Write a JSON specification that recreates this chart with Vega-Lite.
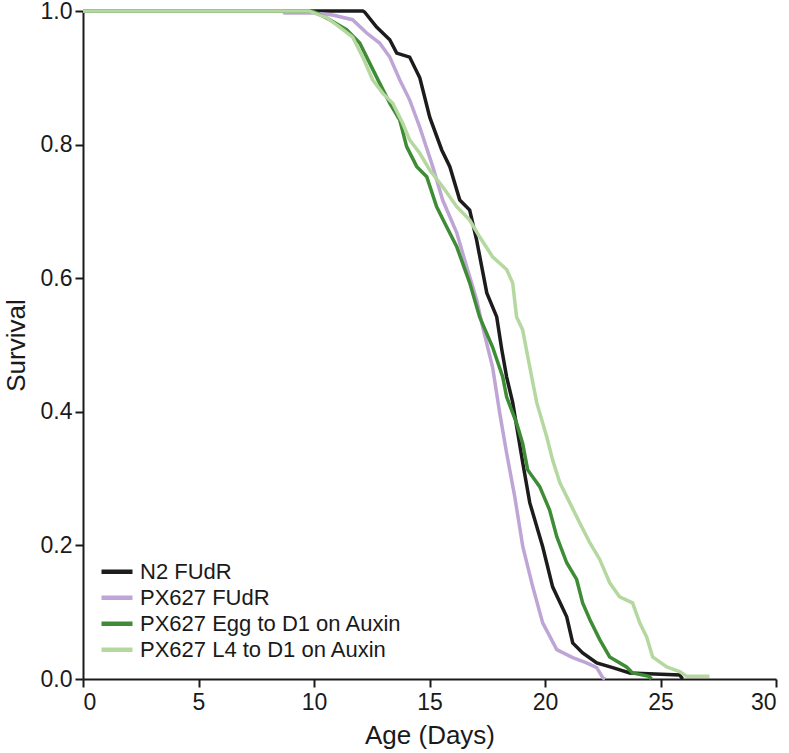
{
  "$schema": "https://vega.github.io/schema/vega-lite/v6.json",
  "width": 693,
  "height": 668,
  "autosize": {"type": "none"},
  "padding": {"left": 83, "top": 11, "right": 13, "bottom": 74},
  "background": "white",
  "config": {
    "font": "Liberation Sans",
    "view": {"stroke": null},
    "axis": {
      "grid": false,
      "domainColor": "#1a1a1a",
      "domainWidth": 2,
      "tickColor": "#1a1a1a",
      "tickWidth": 2,
      "tickSize": 8,
      "labelColor": "#1a1a1a",
      "labelFontSize": 23,
      "labelFont": "Liberation Sans",
      "titleFont": "Liberation Sans",
      "titleFontSize": 26,
      "titleFontWeight": "normal",
      "titleColor": "#1a1a1a"
    }
  },
  "data": {
    "values": [
      {"g": "N2 FUdR", "d": 0, "s": 1.0},
      {"g": "N2 FUdR", "d": 12.11, "s": 1.0},
      {"g": "N2 FUdR", "d": 12.19, "s": 0.9985},
      {"g": "N2 FUdR", "d": 12.71, "s": 0.976},
      {"g": "N2 FUdR", "d": 13.28, "s": 0.957},
      {"g": "N2 FUdR", "d": 13.58, "s": 0.937},
      {"g": "N2 FUdR", "d": 14.14, "s": 0.931},
      {"g": "N2 FUdR", "d": 14.58, "s": 0.9},
      {"g": "N2 FUdR", "d": 15.01, "s": 0.841},
      {"g": "N2 FUdR", "d": 15.53, "s": 0.792},
      {"g": "N2 FUdR", "d": 15.88, "s": 0.767},
      {"g": "N2 FUdR", "d": 16.31, "s": 0.717},
      {"g": "N2 FUdR", "d": 16.74, "s": 0.702},
      {"g": "N2 FUdR", "d": 17.04, "s": 0.657},
      {"g": "N2 FUdR", "d": 17.48, "s": 0.578},
      {"g": "N2 FUdR", "d": 17.91, "s": 0.542},
      {"g": "N2 FUdR", "d": 18.13, "s": 0.493},
      {"g": "N2 FUdR", "d": 18.34, "s": 0.452},
      {"g": "N2 FUdR", "d": 18.6, "s": 0.414},
      {"g": "N2 FUdR", "d": 19.04, "s": 0.323},
      {"g": "N2 FUdR", "d": 19.34, "s": 0.264},
      {"g": "N2 FUdR", "d": 19.9, "s": 0.198},
      {"g": "N2 FUdR", "d": 20.33, "s": 0.138},
      {"g": "N2 FUdR", "d": 20.94, "s": 0.093},
      {"g": "N2 FUdR", "d": 21.2, "s": 0.054},
      {"g": "N2 FUdR", "d": 21.63, "s": 0.039},
      {"g": "N2 FUdR", "d": 22.24, "s": 0.024},
      {"g": "N2 FUdR", "d": 22.93, "s": 0.017},
      {"g": "N2 FUdR", "d": 23.67, "s": 0.009},
      {"g": "N2 FUdR", "d": 25.83, "s": 0.006},
      {"g": "N2 FUdR", "d": 25.96, "s": 0.0},

      {"g": "PX627 FUdR", "d": 0, "s": 1.0},
      {"g": "PX627 FUdR", "d": 8.65, "s": 1.0},
      {"g": "PX627 FUdR", "d": 8.73, "s": 0.997},
      {"g": "PX627 FUdR", "d": 9.94, "s": 0.997},
      {"g": "PX627 FUdR", "d": 10.81, "s": 0.994},
      {"g": "PX627 FUdR", "d": 11.67, "s": 0.987},
      {"g": "PX627 FUdR", "d": 12.28, "s": 0.967},
      {"g": "PX627 FUdR", "d": 12.84, "s": 0.952},
      {"g": "PX627 FUdR", "d": 13.28, "s": 0.931},
      {"g": "PX627 FUdR", "d": 13.71, "s": 0.897},
      {"g": "PX627 FUdR", "d": 14.14, "s": 0.867},
      {"g": "PX627 FUdR", "d": 14.58, "s": 0.826},
      {"g": "PX627 FUdR", "d": 15.14, "s": 0.767},
      {"g": "PX627 FUdR", "d": 15.57, "s": 0.717},
      {"g": "PX627 FUdR", "d": 16.18, "s": 0.668},
      {"g": "PX627 FUdR", "d": 16.61, "s": 0.617},
      {"g": "PX627 FUdR", "d": 17.04, "s": 0.568},
      {"g": "PX627 FUdR", "d": 17.3, "s": 0.527},
      {"g": "PX627 FUdR", "d": 17.73, "s": 0.467},
      {"g": "PX627 FUdR", "d": 18.04, "s": 0.398},
      {"g": "PX627 FUdR", "d": 18.34, "s": 0.338},
      {"g": "PX627 FUdR", "d": 18.69, "s": 0.273},
      {"g": "PX627 FUdR", "d": 19.04, "s": 0.198},
      {"g": "PX627 FUdR", "d": 19.47, "s": 0.138},
      {"g": "PX627 FUdR", "d": 19.9, "s": 0.084},
      {"g": "PX627 FUdR", "d": 20.51, "s": 0.044},
      {"g": "PX627 FUdR", "d": 21.2, "s": 0.032},
      {"g": "PX627 FUdR", "d": 21.8, "s": 0.024},
      {"g": "PX627 FUdR", "d": 22.24, "s": 0.017},
      {"g": "PX627 FUdR", "d": 22.5, "s": 0.002},
      {"g": "PX627 FUdR", "d": 22.6, "s": 0.0},

      {"g": "PX627 Egg to D1 on Auxin", "d": 0, "s": 1.0},
      {"g": "PX627 Egg to D1 on Auxin", "d": 9.94, "s": 1.0},
      {"g": "PX627 Egg to D1 on Auxin", "d": 10.68, "s": 0.987},
      {"g": "PX627 Egg to D1 on Auxin", "d": 11.41, "s": 0.972},
      {"g": "PX627 Egg to D1 on Auxin", "d": 11.98, "s": 0.952},
      {"g": "PX627 Egg to D1 on Auxin", "d": 12.41, "s": 0.922},
      {"g": "PX627 Egg to D1 on Auxin", "d": 12.84, "s": 0.892},
      {"g": "PX627 Egg to D1 on Auxin", "d": 13.28, "s": 0.862},
      {"g": "PX627 Egg to D1 on Auxin", "d": 13.71, "s": 0.837},
      {"g": "PX627 Egg to D1 on Auxin", "d": 14.01, "s": 0.797},
      {"g": "PX627 Egg to D1 on Auxin", "d": 14.45, "s": 0.767},
      {"g": "PX627 Egg to D1 on Auxin", "d": 14.88, "s": 0.752},
      {"g": "PX627 Egg to D1 on Auxin", "d": 15.31, "s": 0.707},
      {"g": "PX627 Egg to D1 on Auxin", "d": 15.74, "s": 0.677},
      {"g": "PX627 Egg to D1 on Auxin", "d": 16.18, "s": 0.647},
      {"g": "PX627 Egg to D1 on Auxin", "d": 16.74, "s": 0.593},
      {"g": "PX627 Egg to D1 on Auxin", "d": 17.17, "s": 0.542},
      {"g": "PX627 Egg to D1 on Auxin", "d": 17.73, "s": 0.497},
      {"g": "PX627 Egg to D1 on Auxin", "d": 18.17, "s": 0.452},
      {"g": "PX627 Egg to D1 on Auxin", "d": 18.34, "s": 0.422},
      {"g": "PX627 Egg to D1 on Auxin", "d": 18.77, "s": 0.383},
      {"g": "PX627 Egg to D1 on Auxin", "d": 19.03, "s": 0.353},
      {"g": "PX627 Egg to D1 on Auxin", "d": 19.25, "s": 0.313},
      {"g": "PX627 Egg to D1 on Auxin", "d": 19.77, "s": 0.288},
      {"g": "PX627 Egg to D1 on Auxin", "d": 20.2, "s": 0.253},
      {"g": "PX627 Egg to D1 on Auxin", "d": 20.51, "s": 0.213},
      {"g": "PX627 Egg to D1 on Auxin", "d": 20.94, "s": 0.174},
      {"g": "PX627 Egg to D1 on Auxin", "d": 21.37, "s": 0.149},
      {"g": "PX627 Egg to D1 on Auxin", "d": 21.63, "s": 0.114},
      {"g": "PX627 Egg to D1 on Auxin", "d": 21.94, "s": 0.089},
      {"g": "PX627 Egg to D1 on Auxin", "d": 22.37, "s": 0.059},
      {"g": "PX627 Egg to D1 on Auxin", "d": 22.8, "s": 0.033},
      {"g": "PX627 Egg to D1 on Auxin", "d": 23.53, "s": 0.018},
      {"g": "PX627 Egg to D1 on Auxin", "d": 23.79, "s": 0.009},
      {"g": "PX627 Egg to D1 on Auxin", "d": 24.5, "s": 0.004},
      {"g": "PX627 Egg to D1 on Auxin", "d": 24.61, "s": 0.0},

      {"g": "PX627 L4 to D1 on Auxin", "d": 0, "s": 1.0},
      {"g": "PX627 L4 to D1 on Auxin", "d": 9.8, "s": 1.0},
      {"g": "PX627 L4 to D1 on Auxin", "d": 9.94, "s": 0.998},
      {"g": "PX627 L4 to D1 on Auxin", "d": 10.55, "s": 0.99},
      {"g": "PX627 L4 to D1 on Auxin", "d": 11.11, "s": 0.976},
      {"g": "PX627 L4 to D1 on Auxin", "d": 11.67, "s": 0.961},
      {"g": "PX627 L4 to D1 on Auxin", "d": 12.11, "s": 0.931},
      {"g": "PX627 L4 to D1 on Auxin", "d": 12.54, "s": 0.897},
      {"g": "PX627 L4 to D1 on Auxin", "d": 12.97, "s": 0.877},
      {"g": "PX627 L4 to D1 on Auxin", "d": 13.41, "s": 0.862},
      {"g": "PX627 L4 to D1 on Auxin", "d": 13.84, "s": 0.832},
      {"g": "PX627 L4 to D1 on Auxin", "d": 14.14, "s": 0.807},
      {"g": "PX627 L4 to D1 on Auxin", "d": 14.58, "s": 0.787},
      {"g": "PX627 L4 to D1 on Auxin", "d": 15.01, "s": 0.762},
      {"g": "PX627 L4 to D1 on Auxin", "d": 15.57, "s": 0.737},
      {"g": "PX627 L4 to D1 on Auxin", "d": 16.18, "s": 0.707},
      {"g": "PX627 L4 to D1 on Auxin", "d": 16.74, "s": 0.687},
      {"g": "PX627 L4 to D1 on Auxin", "d": 17.17, "s": 0.662},
      {"g": "PX627 L4 to D1 on Auxin", "d": 17.73, "s": 0.632},
      {"g": "PX627 L4 to D1 on Auxin", "d": 18.34, "s": 0.613},
      {"g": "PX627 L4 to D1 on Auxin", "d": 18.6, "s": 0.593},
      {"g": "PX627 L4 to D1 on Auxin", "d": 18.77, "s": 0.542},
      {"g": "PX627 L4 to D1 on Auxin", "d": 19.03, "s": 0.523},
      {"g": "PX627 L4 to D1 on Auxin", "d": 19.34, "s": 0.467},
      {"g": "PX627 L4 to D1 on Auxin", "d": 19.64, "s": 0.414},
      {"g": "PX627 L4 to D1 on Auxin", "d": 20.07, "s": 0.363},
      {"g": "PX627 L4 to D1 on Auxin", "d": 20.33, "s": 0.328},
      {"g": "PX627 L4 to D1 on Auxin", "d": 20.64, "s": 0.294},
      {"g": "PX627 L4 to D1 on Auxin", "d": 21.07, "s": 0.264},
      {"g": "PX627 L4 to D1 on Auxin", "d": 21.5, "s": 0.234},
      {"g": "PX627 L4 to D1 on Auxin", "d": 21.94, "s": 0.204},
      {"g": "PX627 L4 to D1 on Auxin", "d": 22.37, "s": 0.179},
      {"g": "PX627 L4 to D1 on Auxin", "d": 22.8, "s": 0.144},
      {"g": "PX627 L4 to D1 on Auxin", "d": 23.23, "s": 0.123},
      {"g": "PX627 L4 to D1 on Auxin", "d": 23.79, "s": 0.114},
      {"g": "PX627 L4 to D1 on Auxin", "d": 24.1, "s": 0.084},
      {"g": "PX627 L4 to D1 on Auxin", "d": 24.4, "s": 0.063},
      {"g": "PX627 L4 to D1 on Auxin", "d": 24.66, "s": 0.033},
      {"g": "PX627 L4 to D1 on Auxin", "d": 25.27, "s": 0.018},
      {"g": "PX627 L4 to D1 on Auxin", "d": 25.83, "s": 0.011},
      {"g": "PX627 L4 to D1 on Auxin", "d": 26.13, "s": 0.004},
      {"g": "PX627 L4 to D1 on Auxin", "d": 27.12, "s": 0.004}
    ]
  },
  "mark": {"type": "line", "strokeWidth": 3.5, "interpolate": "linear", "clip": false},
  "encoding": {
    "x": {
      "field": "d",
      "type": "quantitative",
      "title": "Age (Days)",
      "scale": {"domain": [0, 30], "nice": false, "zero": true},
      "axis": {"values": [0, 5, 10, 15, 20, 25, 30], "labelFontSize": 23, "labelPadding": 4, "titlePadding": 8}
    },
    "y": {
      "field": "s",
      "type": "quantitative",
      "title": "Survival",
      "scale": {"domain": [0, 1], "nice": false},
      "axis": {"values": [0, 0.2, 0.4, 0.6, 0.8, 1.0], "format": ".1f", "labelFontSize": 23, "labelPadding": 3, "titlePadding": 11}
    },
    "color": {
      "field": "g",
      "type": "nominal",
      "scale": {
        "domain": ["N2 FUdR", "PX627 FUdR", "PX627 Egg to D1 on Auxin", "PX627 L4 to D1 on Auxin"],
        "range": ["#1c1c1c", "#bea5d5", "#3f8c37", "#b5d8a0"]
      },
      "legend": {
        "title": null,
        "orient": "none",
        "legendX": 16,
        "legendY": 548,
        "symbolType": "stroke",
        "symbolStrokeWidth": 4.5,
        "symbolSize": 961,
        "labelFontSize": 22,
        "labelColor": "#1a1a1a",
        "labelFont": "Liberation Sans",
        "labelOffset": 5,
        "rowPadding": 0,
        "clipHeight": 25.5,
        "labelLimit": 400
      }
    }
  }
}
